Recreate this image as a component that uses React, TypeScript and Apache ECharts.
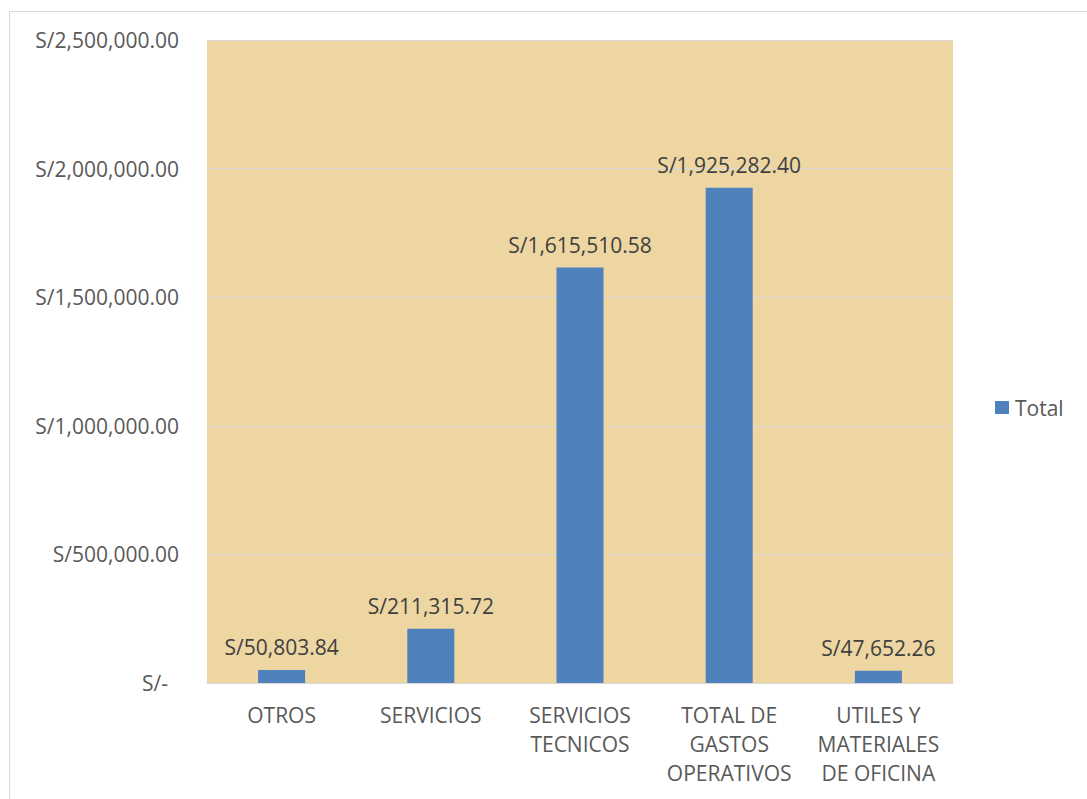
import React, { useEffect, useRef } from "react";
import * as echarts from "echarts";

const categories = [
  "OTROS",
  "SERVICIOS",
  "SERVICIOS\nTECNICOS",
  "TOTAL DE\nGASTOS\nOPERATIVOS",
  "UTILES Y\nMATERIALES\nDE OFICINA",
];
const totals = [50803.84, 211315.72, 1615510.58, 1925282.4, 47652.26];
const seriesName = "Total";

const FONT = "'Open Sans', 'Liberation Sans', sans-serif";

function money(v: number): string {
  if (v === 0) return "S/-";
  return (
    "S/" +
    v.toLocaleString("en-US", { minimumFractionDigits: 2, maximumFractionDigits: 2 })
  );
}

export default function App() {
  const ref = useRef<HTMLDivElement>(null);
  useEffect(() => {
    if (!ref.current) return;
    const chart = echarts.init(ref.current, undefined, { renderer: "svg" });
    chart.setOption({
      animation: false,
      backgroundColor: "#ffffff",
      textStyle: { fontFamily: FONT },
      graphic: [
        {
          type: "rect",
          shape: { x: 9.5, y: 11.5, width: 1200, height: 900 },
          style: { fill: "none", stroke: "#d9d9d9", lineWidth: 1 },
          silent: true,
          z: -1,
        },
      ],
      grid: {
        left: 207,
        right: 134,
        top: 40,
        bottom: 116,
        show: true,
        backgroundColor: "#EDD6A1",
        borderWidth: 0,
      },
      legend: {
        data: [seriesName],
        left: 995,
        top: 397,
        padding: 0,
        icon: "rect",
        itemWidth: 14,
        itemHeight: 13,
        itemGap: 6,
        textStyle: { fontFamily: FONT, fontSize: 21, color: "#595959", padding: [0, 0, 0, 1] },
      },
      xAxis: {
        type: "category",
        data: categories,
        axisLine: { show: true, lineStyle: { color: "#d9d9d9", width: 1 } },
        axisTick: { show: false },
        axisLabel: {
          interval: 0,
          margin: 17,
          fontFamily: FONT,
          fontSize: 21,
          lineHeight: 29,
          color: "#595959",
        },
      },
      yAxis: {
        type: "value",
        min: 0,
        max: 2500000,
        interval: 500000,
        axisLine: { show: false },
        axisTick: { show: false },
        splitLine: { lineStyle: { color: "#d9d9d9", width: 1 } },
        axisLabel: {
          margin: 28,
          fontFamily: FONT,
          fontSize: 21,
          color: "#595959",
          formatter: (v: number) => (v === 0 ? "{z|S/-}" : money(v)),
          rich: {
            z: { fontFamily: FONT, fontSize: 21, color: "#595959", padding: [0, 11, 0, 0] },
          },
        },
      },
      series: [
        {
          name: seriesName,
          type: "bar",
          data: totals,
          barWidth: 47,
          itemStyle: { color: "#4F81BD" },
          label: {
            show: true,
            position: "top",
            distance: 12,
            fontFamily: FONT,
            fontSize: 21,
            color: "#404040",
            formatter: (p: any) => money(p.value),
          },
        },
      ],
    });
    return () => chart.dispose();
  }, []);
  return (
    <div
      ref={ref}
      style={{ position: "absolute", left: 0, top: 0, width: 1087, height: 799 }}
    />
  );
}
